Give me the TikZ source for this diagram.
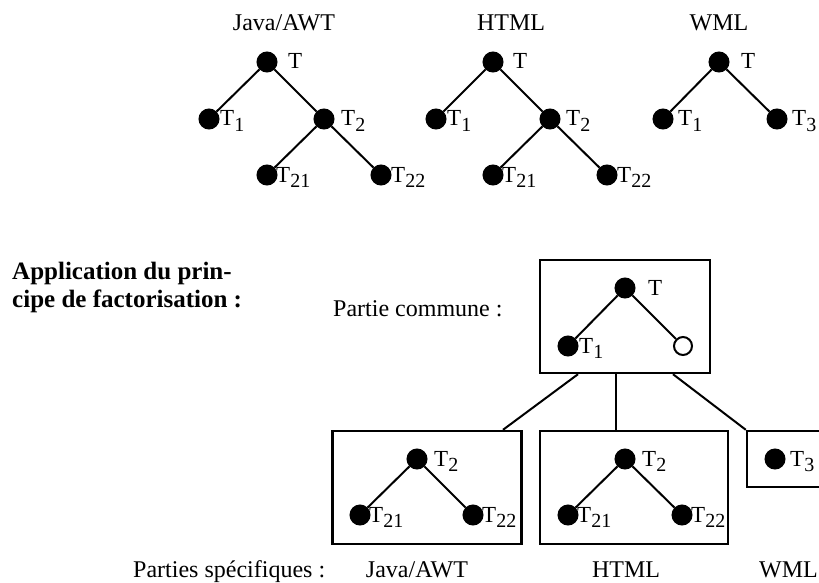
\documentclass[tikz,border=0pt]{standalone}
\usepackage{fontspec}
\setmainfont{Liberation Serif}
\newcommand\Tsb[1]{T\raisebox{-5.5pt}{\fontsize{20}{20}\selectfont #1}}
\tikzset{
  dot/.style={circle,fill=black,draw=black,line width=1pt,minimum size=20pt,inner sep=0pt},
  odot/.style={circle,fill=white,draw=black,line width=2pt,minimum size=18pt,inner sep=0pt},
  lbl/.style={font=\fontsize{23}{25}\selectfont,inner sep=0pt,anchor=base west},
  txt/.style={font=\fontsize{24}{26}\selectfont,inner sep=0pt,anchor=base},
  btxt/.style={font=\bfseries\fontsize{25}{27}\selectfont,inner sep=0pt,anchor=base west},
  edge/.style={line width=2pt},
  box/.style={draw,line width=2.4pt,inner sep=0pt}
}
\begin{document}
\begin{tikzpicture}[x=1pt,y=-1pt]
\useasboundingbox (0,0) rectangle (819,583);
\clip (0,0) rectangle (819,583);
% ---------- top trees ----------
\node[txt] (lj) at (284,31) {Java/AWT};
\node[txt] (lh) at (511,31) {HTML};
\node[txt] (lw) at (719,31) {WML};
% Java/AWT
\node[dot] (jt) at (267,62) {};
\node[dot] (j1) at (209,119) {};
\node[dot] (j2) at (324,119) {};
\node[dot] (j21) at (267,175) {};
\node[dot] (j22) at (381,175) {};
\draw[edge] (jt) -- (j1) (jt) -- (j2) (j2) -- (j21) (j2) -- (j22);
\node[lbl] (jtl) at ([xshift=21pt,yshift=-7pt]jt.center) {T};
\node[lbl] (j1l) at ([xshift=11pt,yshift=-7pt]j1.center) {\Tsb{1}};
\node[lbl] (j2l) at ([xshift=17pt,yshift=-7pt]j2.center) {\Tsb{2}};
\node[lbl] (j21l) at ([xshift=9pt,yshift=-7pt]j21.center) {\Tsb{21}};
\node[lbl] (j22l) at ([xshift=10pt,yshift=-7pt]j22.center) {\Tsb{22}};
% HTML
\node[dot] (ht) at (493,62) {};
\node[dot] (h1) at (436,119) {};
\node[dot] (h2) at (550,119) {};
\node[dot] (h21) at (493,175) {};
\node[dot] (h22) at (607,175) {};
\draw[edge] (ht) -- (h1) (ht) -- (h2) (h2) -- (h21) (h2) -- (h22);
\node[lbl] (htl) at ([xshift=20pt,yshift=-7pt]ht.center) {T};
\node[lbl] (h1l) at ([xshift=11pt,yshift=-7pt]h1.center) {\Tsb{1}};
\node[lbl] (h2l) at ([xshift=16pt,yshift=-7pt]h2.center) {\Tsb{2}};
\node[lbl] (h21l) at ([xshift=9pt,yshift=-7pt]h21.center) {\Tsb{21}};
\node[lbl] (h22l) at ([xshift=10pt,yshift=-7pt]h22.center) {\Tsb{22}};
% WML
\node[dot] (wt) at (719,62) {};
\node[dot] (w1) at (663,119) {};
\node[dot] (w3) at (777,119) {};
\draw[edge] (wt) -- (w1) (wt) -- (w3);
\node[lbl] (wtl) at ([xshift=22pt,yshift=-7pt]wt.center) {T};
\node[lbl] (w1l) at ([xshift=15pt,yshift=-7pt]w1.center) {\Tsb{1}};
\node[lbl] (w3l) at ([xshift=15pt,yshift=-7pt]w3.center) {\Tsb{3}};
% ---------- factorisation ----------
\node[btxt] (ap1) at (12,279) {Application du prin-};
\node[btxt] (ap2) at (12,307) {cipe de factorisation :};
\node[lbl,font=\fontsize{24}{26}\selectfont] (pc) at (333,316) {Partie commune :};
\node[lbl,font=\fontsize{24}{26}\selectfont] (ps) at (133,577) {Parties spécifiques :};
\node[txt] (bj) at (417,577) {Java/AWT};
\node[txt] (bh) at (626,577) {HTML};
\node[txt,anchor=base east] (bw) at (818,577) {WML};
% common box
\node[box,minimum width=170pt,minimum height=113pt] (cbox) at (625,316.5) {};
\node[dot] (ct) at (625,288) {};
\node[dot] (c1) at (568,346) {};
\node[odot] (co) at (683,346) {};
\draw[edge] (ct) -- (c1) (ct) -- (co);
\node[lbl] (ctl) at ([xshift=23pt,yshift=-7pt]ct.center) {T};
\node[lbl] (c1l) at ([xshift=11pt,yshift=-7pt]c1.center) {\Tsb{1}};
% specific boxes
\node[box,minimum width=189pt,minimum height=113pt] (jbox) at (427,487.5) {};
\node[box,minimum width=188pt,minimum height=113pt] (hbox) at (634,487.5) {};
\node[box,minimum width=120pt,minimum height=56pt] (wbox) at (807,459) {};
% Java/AWT specific
\node[dot] (sj2) at (417,459) {};
\node[dot] (sj21) at (360,515) {};
\node[dot] (sj22) at (473,515) {};
\draw[edge] (sj2) -- (sj21) (sj2) -- (sj22);
\node[lbl] (sj2l) at ([xshift=17pt,yshift=-7pt]sj2.center) {\Tsb{2}};
\node[lbl] (sj21l) at ([xshift=9pt,yshift=-7pt]sj21.center) {\Tsb{21}};
\node[lbl] (sj22l) at ([xshift=9pt,yshift=-7pt]sj22.center) {\Tsb{22}};
% HTML specific
\node[dot] (sh2) at (625,459) {};
\node[dot] (sh21) at (568,515) {};
\node[dot] (sh22) at (682,515) {};
\draw[edge] (sh2) -- (sh21) (sh2) -- (sh22);
\node[lbl] (sh2l) at ([xshift=17pt,yshift=-7pt]sh2.center) {\Tsb{2}};
\node[lbl] (sh21l) at ([xshift=9pt,yshift=-7pt]sh21.center) {\Tsb{21}};
\node[lbl] (sh22l) at ([xshift=9pt,yshift=-7pt]sh22.center) {\Tsb{22}};
% WML specific
\node[dot] (sw3) at (775,459) {};
\node[lbl] (sw3l) at ([xshift=15pt,yshift=-7pt]sw3.center) {\Tsb{3}};
% connectors
\draw[edge] ([xshift=-47pt]cbox.south) -- ([xshift=76pt]jbox.north);
\draw[edge] ([xshift=-9pt]cbox.south) -- ([xshift=-18pt]hbox.north);
\draw[edge] ([xshift=48pt]cbox.south) -- (wbox.north west);
\end{tikzpicture}
\end{document}
